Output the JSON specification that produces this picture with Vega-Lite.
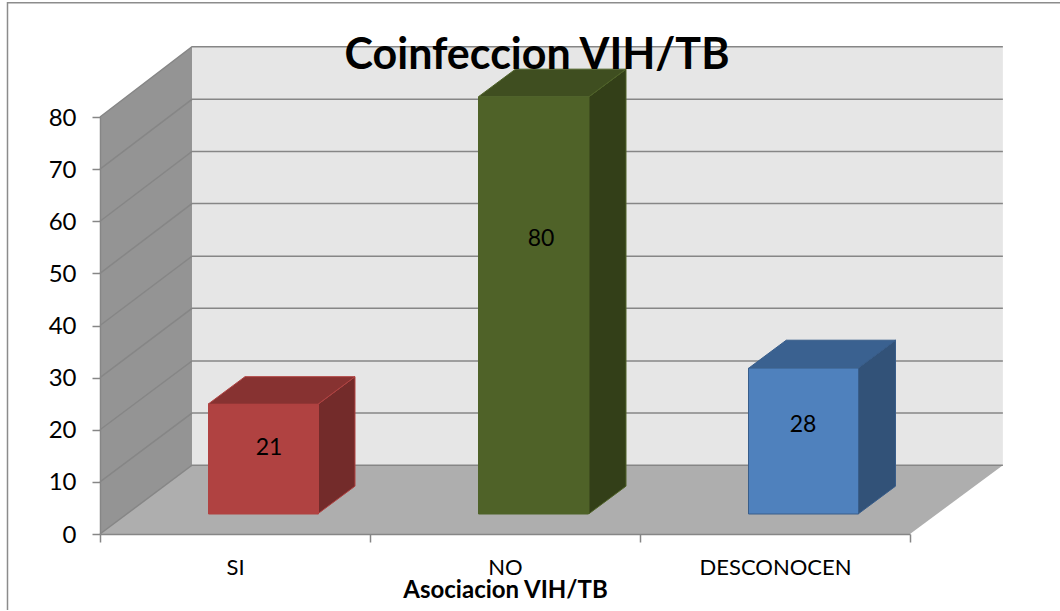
{
"$schema":"https://vega.github.io/schema/vega-lite/v6.json",
"width":810,"height":417,
"autosize":{"type":"none"},
"padding":{"left":100,"top":117,"right":150,"bottom":77},
"background":"white",
"title":{"text":"Coinfeccion VIH/TB","font":"Lato","fontSize":43,"fontWeight":"bold","color":"#000000","anchor":"middle","frame":"group","dx":32,"offset":-78},
"datasets":{
"bars":[{"cat":"SI","v":21},{"cat":"NO","v":80},{"cat":"DESCONOCEN","v":28}],
"wall":[{"u":0,"lo":0,"hi":80},{"u":0.3407,"lo":13.2,"hi":93.5}],
"back":[{"u":0.3407,"u2":3.344,"lo":13.2,"hi":93.5}],
"floor":[{"y":0,"a":0,"b":3},{"y":13.2,"a":0.3407,"b":3.344}],
"grid":[
{"t":10,"u":0,"y":10},{"t":10,"u":0.3407,"y":23.2},{"t":10,"u":3.344,"y":23.2},
{"t":20,"u":0,"y":20},{"t":20,"u":0.3407,"y":33.2},{"t":20,"u":3.344,"y":33.2},
{"t":30,"u":0,"y":30},{"t":30,"u":0.3407,"y":43.3},{"t":30,"u":3.344,"y":43.3},
{"t":40,"u":0,"y":40},{"t":40,"u":0.3407,"y":53.3},{"t":40,"u":3.344,"y":53.3},
{"t":50,"u":0,"y":50},{"t":50,"u":0.3407,"y":63.4},{"t":50,"u":3.344,"y":63.4},
{"t":60,"u":0,"y":60},{"t":60,"u":0.3407,"y":73.4},{"t":60,"u":3.344,"y":73.4},
{"t":70,"u":0,"y":70},{"t":70,"u":0.3407,"y":83.4},{"t":70,"u":3.344,"y":83.4},
{"t":80,"u":0,"y":80},{"t":80,"u":0.3407,"y":93.5},{"t":80,"u":3.344,"y":93.5},
{"t":0,"u":0,"y":0},{"t":0,"u":0.3407,"y":13.2},{"t":0,"u":3.344,"y":13.2}],
"side":[
{"cat":"SI","u":0.8074,"lo":3.9,"hi":24.9},{"cat":"SI","u":0.9444,"lo":9.18,"hi":30.18},
{"cat":"NO","u":1.8111,"lo":3.9,"hi":83.9},{"cat":"NO","u":1.9481,"lo":9.18,"hi":89.18},
{"cat":"DESCONOCEN","u":2.8093,"lo":3.9,"hi":31.9},{"cat":"DESCONOCEN","u":2.9463,"lo":9.18,"hi":37.18}],
"top":[
{"cat":"SI","y":24.9,"a":0.4,"b":0.8074},{"cat":"SI","y":30.18,"a":0.537,"b":0.9444},
{"cat":"NO","y":83.9,"a":1.4019,"b":1.8111},{"cat":"NO","y":89.18,"a":1.5389,"b":1.9481},
{"cat":"DESCONOCEN","y":31.9,"a":2.4048,"b":2.8093},{"cat":"DESCONOCEN","y":37.18,"a":2.5418,"b":2.9463}],
"frame":[{"u":-0.3426,"y":-14.6},{"u":-0.3426,"y":101.9},{"u":3.556,"y":101.9}]
},
"layer":[
{"data":{"name":"frame"},"mark":{"type":"line","color":"#8c8c8c","strokeWidth":1.5},
 "encoding":{"x":{"field":"u","type":"quantitative","sort":null,"scale":{"domain":[0,3],"nice":false,"zero":false},"axis":null},"y":{"field":"y","type":"quantitative","scale":{"domain":[0,80],"nice":false},"axis":{"values":[0,10,20,30,40,50,60,70,80],"title":null,"grid":false,"labelFont":"Lato","labelFontSize":24,"labelColor":"#000000","labelOffset":1,"tickColor":"#868686","tickSize":8,"tickWidth":1.5,"domainColor":"#868686","domainWidth":1.5,"labelPadding":16,"zindex":1}},"order":{"field":"y","type":"quantitative"}}},
{"data":{"name":"back"},"mark":{"type":"rect","color":"#e6e6e6"},
 "encoding":{"x":{"field":"u","type":"quantitative","scale":{"domain":[0,3],"nice":false,"zero":false},"axis":null},"x2":{"field":"u2"},"y":{"field":"lo","type":"quantitative"},"y2":{"field":"hi"}}},
{"data":{"name":"wall"},"mark":{"type":"area","color":"#949494"},
 "encoding":{"x":{"field":"u","type":"quantitative","scale":{"domain":[0,3],"nice":false,"zero":false},"axis":null},"y":{"field":"lo","type":"quantitative","stack":null},"y2":{"field":"hi"}}},
{"data":{"name":"floor"},"mark":{"type":"area","orient":"horizontal","color":"#aeaeae"},
 "encoding":{"y":{"field":"y","type":"quantitative"},"x":{"field":"a","type":"quantitative","stack":null,"scale":{"domain":[0,3],"nice":false,"zero":false},"axis":null},"x2":{"field":"b"}}},
{"data":{"name":"grid"},"mark":{"type":"line","color":"#868686","strokeWidth":1.5},
 "encoding":{"x":{"field":"u","type":"quantitative","scale":{"domain":[0,3],"nice":false,"zero":false},"axis":null},"y":{"field":"y","type":"quantitative"},"detail":{"field":"t"}}},
{"data":{"name":"side"},"mark":{"type":"area","strokeWidth":1},
 "encoding":{"x":{"field":"u","type":"quantitative","scale":{"domain":[0,3],"nice":false,"zero":false},"axis":null},"y":{"field":"lo","type":"quantitative","stack":null},"y2":{"field":"hi"},
 "color":{"field":"cat","type":"nominal","legend":null,"scale":{"domain":["SI","NO","DESCONOCEN"],"range":["#732b2a","#333f18","#325278"]}},
 "stroke":{"field":"cat","type":"nominal","legend":null,"scale":{"domain":["SI","NO","DESCONOCEN"],"range":["#b04241","#4f6228","#385d8a"]}}}},
{"data":{"name":"top"},"mark":{"type":"area","orient":"horizontal","strokeWidth":1},
 "encoding":{"y":{"field":"y","type":"quantitative"},"x":{"field":"a","type":"quantitative","stack":null,"scale":{"domain":[0,3],"nice":false,"zero":false},"axis":null},"x2":{"field":"b"},
 "fill":{"field":"cat","type":"nominal","legend":null,"scale":{"domain":["SI","NO","DESCONOCEN"],"range":["#873231","#3f4e20","#3a6190"]}},
 "stroke":{"field":"cat","type":"nominal","legend":null,"scale":{"domain":["SI","NO","DESCONOCEN"],"range":["#b04241","#4f6228","#385d8a"]}}}},
{"data":{"name":"bars"},
 "layer":[
 {"mark":{"type":"bar","size":110,"xOffset":28.5,"yOffset":-20,"y2Offset":-20,"strokeWidth":1},
  "encoding":{"x":{"field":"cat","type":"nominal","sort":null,"scale":{"paddingInner":0,"paddingOuter":0},"axis":{"orient":"bottom","title":"Asociacion VIH/TB","titleFont":"Lato","titleFontSize":24,"titleFontWeight":"bold","titleColor":"#000000","titlePadding":0,"labelFont":"Lato","labelFontSize":22,"labelColor":"#000000","labelAngle":0,"labelPadding":15,"tickBand":"extent","tickColor":"#868686","tickSize":8,"tickWidth":1.5,"domainColor":"#868686","domainWidth":1.5,"grid":false,"zindex":1}},
  "y":{"field":"v","type":"quantitative"},
  "fill":{"field":"cat","type":"nominal","legend":null,"scale":{"domain":["SI","NO","DESCONOCEN"],"range":["#b04241","#4f6228","#4f81bd"]}},
  "stroke":{"field":"cat","type":"nominal","legend":null,"scale":{"domain":["SI","NO","DESCONOCEN"],"range":["#b04241","#4f6228","#385d8a"]}}}},
 {"transform":[{"filter":"datum.cat==='SI'"}],"mark":{"type":"text","font":"Lato","fontSize":23,"color":"#000000","dx":34,"dy":23},
  "encoding":{"x":{"field":"cat","type":"nominal","sort":null},"y":{"field":"v","type":"quantitative"},"text":{"field":"v","type":"quantitative"}}},
 {"transform":[{"filter":"datum.cat==='NO'"}],"mark":{"type":"text","font":"Lato","fontSize":23,"color":"#000000","dx":36,"dy":122},
  "encoding":{"x":{"field":"cat","type":"nominal","sort":null},"y":{"field":"v","type":"quantitative"},"text":{"field":"v","type":"quantitative"}}},
 {"transform":[{"filter":"datum.cat==='DESCONOCEN'"}],"mark":{"type":"text","font":"Lato","fontSize":23,"color":"#000000","dx":28,"dy":37},
  "encoding":{"x":{"field":"cat","type":"nominal","sort":null},"y":{"field":"v","type":"quantitative"},"text":{"field":"v","type":"quantitative"}}}
 ],
 "resolve":{"scale":{"x":"shared"}}
}
],
"resolve":{"scale":{"x":"independent","color":"independent","fill":"independent","stroke":"independent"}},
"config":{"view":{"stroke":null}}
}
